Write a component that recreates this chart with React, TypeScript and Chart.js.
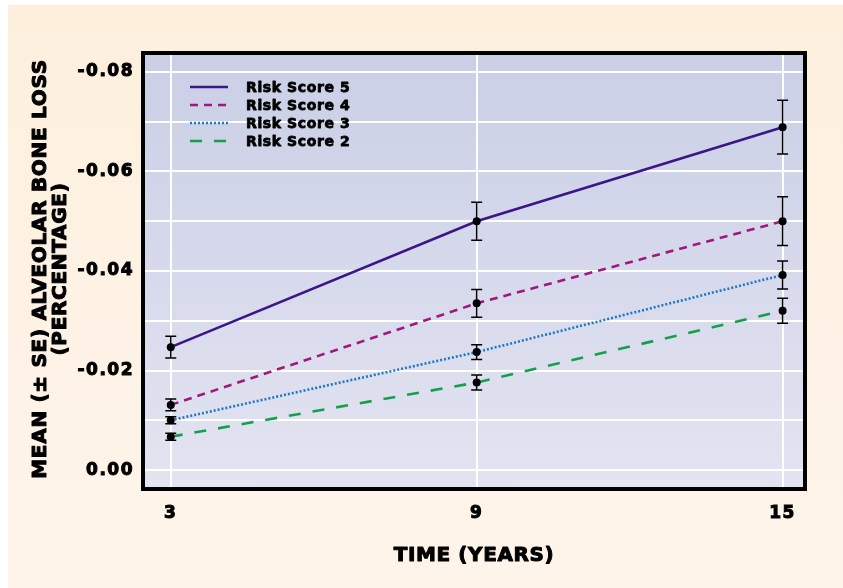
import React, { useEffect, useRef } from "react";
import { Chart, registerables } from "chart.js";

Chart.register(...registerables);

// ---------- data ----------
const years = [3, 9, 15];
const xTickValues = [3, 9, 15];
const yTickValues = [-0.08, -0.07, -0.06, -0.05, -0.04, -0.03, -0.02, -0.01, 0];

const seriesLabels = ["Risk Score 5", "Risk Score 4", "Risk Score 3", "Risk Score 2"];
const risk5 = [-0.0247, -0.05, -0.0689];
const risk5Err = [0.0022, 0.0038, 0.0054];
const risk4 = [-0.0131, -0.0335, -0.05];
const risk4Err = [0.0012, 0.0028, 0.0049];
const risk3 = [-0.01, -0.0237, -0.0392];
const risk3Err = [0.0007, 0.0015, 0.0028];
const risk2 = [-0.0067, -0.0176, -0.032];
const risk2Err = [0.0007, 0.0015, 0.0025];

const xTitle = "TIME (YEARS)";
const yTitle = ["MEAN (± SE) ALVEOLAR BONE LOSS", "(PERCENTAGE)"];

// ---------- styles ----------
const FONT = "'DejaVu Sans', sans-serif";
const seriesColors = ["#3c1686", "#a0187f", "#1e78c4", "#14a04a"];
const seriesDashes: number[][] = [[], [8, 6], [2, 2], [12, 12]];
const seriesValues = [risk5, risk4, risk3, risk2];
const seriesErrors = [risk5Err, risk4Err, risk3Err, risk2Err];

function heavyText(ctx: any, text: string, x: number, y: number, spacing: string, stroke: number) {
  ctx.letterSpacing = spacing;
  ctx.lineJoin = "round";
  ctx.lineWidth = stroke;
  ctx.strokeStyle = "#000";
  ctx.fillStyle = "#000";
  ctx.strokeText(text, x, y);
  ctx.fillText(text, x, y);
}

const plotBgPlugin = {
  id: "plotBg",
  beforeDraw(chart: any) {
    const { ctx, chartArea: a } = chart;
    const g = ctx.createLinearGradient(0, a.top, 0, a.bottom);
    g.addColorStop(0, "#cacfe6");
    g.addColorStop(1, "#e3e4f1");
    ctx.save();
    ctx.fillStyle = g;
    ctx.fillRect(a.left, a.top, a.right - a.left, a.bottom - a.top);
    ctx.restore();
    ctx.letterSpacing = "1.5px";
  },
};

const framePlugin = {
  id: "frame",
  afterDraw(chart: any) {
    const { ctx, chartArea: a } = chart;
    ctx.save();
    ctx.strokeStyle = "#000";
    ctx.lineWidth = 4;
    ctx.setLineDash([]);
    ctx.strokeRect(a.left - 2, a.top - 2, a.right - a.left + 4, a.bottom - a.top + 4);
    ctx.restore();
  },
};

const titlesPlugin = {
  id: "axisTitles",
  afterDraw(chart: any) {
    const { ctx, chartArea: a } = chart;
    ctx.save();
    ctx.textAlign = "center";
    ctx.textBaseline = "middle";
    ctx.font = `bold 20px ${FONT}`;
    heavyText(ctx, xTitle, (a.left + a.right) / 2, 551, "0.6px", 1);
    ctx.restore();

    ctx.save();
    ctx.textAlign = "center";
    ctx.textBaseline = "middle";
    ctx.font = `bold 20px ${FONT}`;
    const cy = (a.top + a.bottom) / 2 - 2;
    yTitle.forEach((line, i) => {
      ctx.save();
      ctx.translate(33 + i * 20, cy);
      ctx.rotate(-Math.PI / 2);
      heavyText(ctx, line, 0, 0, "0.7px", 1);
      ctx.restore();
    });
    ctx.restore();
  },
};

const errorBarPlugin = {
  id: "errorBars",
  afterDatasetsDraw(chart: any) {
    const { ctx } = chart;
    const xs = chart.scales.x;
    const ys = chart.scales.y;
    ctx.save();
    ctx.strokeStyle = "#000";
    ctx.lineWidth = 1.5;
    ctx.setLineDash([]);
    chart.data.datasets.forEach((ds: any) => {
      const errs: number[] = ds.errors;
      ds.data.forEach((p: any, i: number) => {
        const x = xs.getPixelForValue(p.x);
        const y1 = ys.getPixelForValue(p.y - errs[i]);
        const y2 = ys.getPixelForValue(p.y + errs[i]);
        const cap = 5.5;
        ctx.beginPath();
        ctx.moveTo(x, y1);
        ctx.lineTo(x, y2);
        ctx.moveTo(x - cap, y1);
        ctx.lineTo(x + cap, y1);
        ctx.moveTo(x - cap, y2);
        ctx.lineTo(x + cap, y2);
        ctx.stroke();
      });
    });
    ctx.fillStyle = "#000";
    chart.data.datasets.forEach((ds: any) => {
      ds.data.forEach((p: any) => {
        const x = xs.getPixelForValue(p.x);
        const y = ys.getPixelForValue(p.y);
        ctx.beginPath();
        ctx.arc(x, y, 4, 0, Math.PI * 2);
        ctx.fill();
      });
    });
    ctx.restore();
  },
};

const legendPlugin = {
  id: "customLegend",
  afterDraw(chart: any) {
    const { ctx, chartArea: a } = chart;
    ctx.save();
    ctx.font = `bold 14px ${FONT}`;
    ctx.textBaseline = "middle";
    ctx.textAlign = "left";
    chart.data.datasets.forEach((ds: any, i: number) => {
      const y = a.top + 32 + i * 18;
      ctx.strokeStyle = ds.borderColor;
      ctx.lineWidth = ds.borderWidth;
      ctx.setLineDash(ds.borderDash || []);
      ctx.beginPath();
      ctx.moveTo(a.left + 45, y);
      ctx.lineTo(a.left + 83, y);
      ctx.stroke();
      ctx.setLineDash([]);
      heavyText(ctx, ds.label, a.left + 101, y + 1, "0.6px", 0.8);
    });
    ctx.restore();
  },
};

export default function App() {
  const ref = useRef<HTMLCanvasElement | null>(null);

  useEffect(() => {
    if (!ref.current) return;
    const datasets = seriesLabels.map((label, i) => ({
      label,
      data: years.map((x, j) => ({ x, y: seriesValues[i][j] })),
      errors: seriesErrors[i],
      borderColor: seriesColors[i],
      backgroundColor: seriesColors[i],
      borderWidth: 2.6,
      borderDash: seriesDashes[i],
      borderCapStyle: "butt",
      pointRadius: 0,
      tension: 0,
      fill: false,
    }));

    const tickFont = { family: FONT, size: 17, weight: "bold" };

    const chart = new Chart(ref.current, {
      type: "line",
      data: { datasets } as any,
      options: {
        animation: false,
        responsive: true,
        maintainAspectRatio: false,
        layout: { padding: { top: 50, right: 40, left: 0, bottom: 0 } },
        plugins: { legend: { display: false }, tooltip: { enabled: false } },
        scales: {
          x: {
            type: "linear",
            min: 2.495,
            max: 15.4,
            afterBuildTicks: (s: any) => {
              s.ticks = xTickValues.map((v) => ({ value: v }));
            },
            afterFit: (s: any) => {
              s.height = 101;
            },
            grid: { color: "#ffffff", lineWidth: 2, drawTicks: false },
            border: { display: false },
            ticks: {
              padding: 16,
              color: "#000",
              textStrokeColor: "#000",
              textStrokeWidth: 1,
              font: tickFont,
              callback: (v: any) => String(v),
            },
            title: { display: false, text: xTitle },
          },
          y: {
            type: "linear",
            reverse: true,
            min: -0.0834,
            max: 0.0034,
            afterBuildTicks: (s: any) => {
              s.ticks = yTickValues.map((v) => ({ value: v }));
            },
            afterFit: (s: any) => {
              s.width = 137;
            },
            grid: { color: "#ffffff", lineWidth: 2, drawTicks: false },
            border: { display: false },
            ticks: {
              padding: 11,
              color: "#000",
              textStrokeColor: "#000",
              textStrokeWidth: 1,
              font: tickFont,
              callback: (v: any) => {
                const k = Math.round(Math.abs(Number(v)) * 100);
                if (k % 2 !== 0) return "";
                const n = Number(v);
                return Math.abs(n) < 1e-9 ? "0.00" : n.toFixed(2);
              },
            },
            title: { display: false, text: yTitle },
          },
        },
      } as any,
      plugins: [plotBgPlugin, errorBarPlugin, legendPlugin, framePlugin, titlesPlugin],
    });
    return () => chart.destroy();
  }, []);

  return (
    <div
      style={{
        position: "absolute",
        left: 8,
        top: 5,
        width: 835,
        height: 583,
        background: "linear-gradient(180deg, #fdefdc 0%, #fdf2e4 50%, #fef4ea 100%)",
      }}
    >
      <canvas ref={ref} />
    </div>
  );
}
